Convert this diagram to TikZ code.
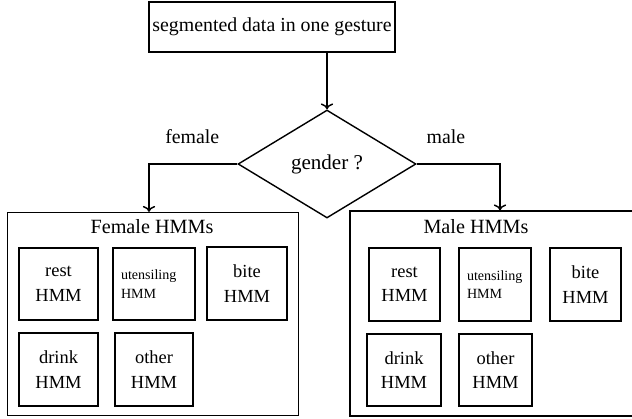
\documentclass[tikz,border=0pt]{standalone}
\usepackage{fontspec}
\setmainfont{Liberation Serif}
\usetikzlibrary{arrows.meta, positioning, calc, shapes}

\tikzset{
  box/.style={draw, thick, inner sep=2pt},
  hmmbox/.style={box, align=center, font=\fontsize{10.5}{14}\selectfont},
  smallhmm/.style={box, align=left, font=\fontsize{8}{10.5}\selectfont,
    text width=1.32cm, inner xsep=0.16cm},
  flow/.style={->, thick}
}

\begin{document}
\begin{tikzpicture}[x=0.02cm, y=-0.02cm, font=\fontsize{11.3}{13}\selectfont]
  \useasboundingbox (0,0) rectangle (632,419);

  % top of the chart
  \node[box, minimum width=4.88cm, minimum height=1.0cm] (seg) at (272,27) {segmented data in one gesture};
  \node[box, shape=diamond, minimum width=3.56cm, minimum height=2.16cm, font=\fontsize{12}{14}\selectfont] (gender) at (327,164) {gender ?};

  % the two model groups
  \node[box, minimum width=5.82cm, minimum height=4.06cm] (fhmm) at (153,314) {};
  \node[box, minimum width=5.72cm, minimum height=4.1cm] (mhmm) at (493,313.5) {};
  \node[font=\fontsize{11.5}{14}\selectfont] (ftitle) at (152,227) {Female HMMs};
  \node[font=\fontsize{11.5}{14}\selectfont] (mtitle) at (476,227) {Male HMMs};

  % female HMMs
  \node[hmmbox, minimum width=1.58cm, minimum height=1.44cm] (frest) at (58.5,284) {rest\\HMM};
  \node[smallhmm, minimum height=1.44cm] (futen) at (154,284) {utensiling\\HMM};
  \node[hmmbox, minimum width=1.6cm, minimum height=1.46cm] (fbite) at (247,283.5) {bite\\HMM};
  \node[hmmbox, minimum width=1.58cm, minimum height=1.46cm] (fdrink) at (58.5,369.5) {drink\\HMM};
  \node[hmmbox, minimum width=1.56cm, minimum height=1.46cm] (fother) at (154,369.5) {other\\HMM};

  % male HMMs
  \node[hmmbox, minimum width=1.42cm, minimum height=1.46cm] (mrest) at (404.5,284.5) {rest\\HMM};
  \node[smallhmm, text width=1.12cm, minimum height=1.46cm] (muten) at (495,284.5) {utensiling\\HMM};
  \node[hmmbox, minimum width=1.42cm, minimum height=1.46cm] (mbite) at (585.5,284.5) {bite\\HMM};
  \node[hmmbox, minimum width=1.48cm, minimum height=1.44cm] (mdrink) at (404,370) {drink\\HMM};
  \node[hmmbox, minimum width=1.46cm, minimum height=1.44cm] (mother) at (495.5,370) {other\\HMM};

  % connectors
  \draw[flow] (gender.north |- seg.south) -- (gender.north);
  \draw[flow] (gender.west) -| node[pos=0.255, above=8pt] {female} ([xshift=-0.08cm]fhmm.north);
  \draw[flow] (gender.east) -| node[pos=0.175, above=8pt] {male} ([xshift=0.14cm]mhmm.north);
\end{tikzpicture}
\end{document}
